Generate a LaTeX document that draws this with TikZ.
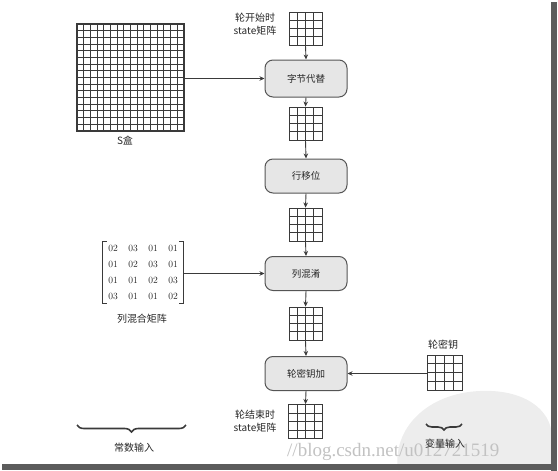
\documentclass[tikz,border=0pt]{standalone}
\usepackage{fontspec}
\newfontfamily\cjk{Noto Sans CJK SC}
\newfontfamily\wmfont{Liberation Serif}
\usetikzlibrary{arrows.meta,decorations.pathreplacing,calc,matrix}
\definecolor{linec}{HTML}{3A3A3A}
\definecolor{boxfill}{HTML}{E6E6E6}
\definecolor{boxline}{HTML}{555555}
\definecolor{txtc}{HTML}{262626}
\definecolor{wmc}{HTML}{C2C2C2}
\definecolor{blobc}{HTML}{EDEDED}
\definecolor{framec}{HTML}{5C5C5C}
\begin{document}
\begin{tikzpicture}[x=1pt,y=-1pt,
  gridbox/.style={draw=linec, line width=0.9pt, inner sep=0pt, minimum size=#1,
    path picture={
      \foreach \i in {1,2,3}{
        \draw[linec,line width=0.9pt]
          ($(path picture bounding box.north west)!\i/4!(path picture bounding box.north east)$) --
          ($(path picture bounding box.south west)!\i/4!(path picture bounding box.south east)$);
        \draw[linec,line width=0.9pt]
          ($(path picture bounding box.north west)!\i/4!(path picture bounding box.south west)$) --
          ($(path picture bounding box.north east)!\i/4!(path picture bounding box.south east)$);
      }}},
  sgrid/.style={draw=linec, line width=1.1pt, inner sep=0pt, minimum size=107pt,
    path picture={
      \foreach \i in {1,...,15}{
        \draw[linec,line width=1pt]
          ($(path picture bounding box.north west)!\i/16!(path picture bounding box.north east)$) --
          ($(path picture bounding box.south west)!\i/16!(path picture bounding box.south east)$);
        \draw[linec,line width=1pt]
          ($(path picture bounding box.north west)!\i/16!(path picture bounding box.south west)$) --
          ($(path picture bounding box.north east)!\i/16!(path picture bounding box.south east)$);
      }}},
  stagebox/.style={draw=boxline, fill=boxfill, line width=1pt, rounded corners=8pt,
    minimum width=82pt, minimum height=34pt, inner sep=0pt, text=txtc,
    font=\cjk\fontsize{9.5}{11}\selectfont},
  lbl/.style={text=txtc, inner sep=0pt, align=center,
    font=\cjk\fontsize{10}{13}\selectfont},
  arr/.style={draw=linec, line width=0.9pt, -{Stealth[length=5pt,width=4.5pt]}},
  bracefig/.style={draw=linec, line width=1.6pt,
    decorate, decoration={brace, mirror, amplitude=7pt}},
  cell/.style={minimum width=20pt, minimum height=16pt, inner sep=0pt, text=txtc,
    font=\fontsize{9.5}{10}\selectfont}
]
\useasboundingbox (0,0) rectangle (558,471);

% watermark blob
\fill[blobc] (398,470) .. controls (392,428) and (428,393) .. (480,391)
  .. controls (522,389) and (552,408) .. (552,438) -- (552,470) -- cycle;

% watermark text (behind everything else)
\node[text=wmc, inner sep=0pt, anchor=base west,
  font=\wmfont\fontsize{19}{20}\selectfont] (wm) at (287,456) {//blog.csdn.net/u012721519};

% frame bars
\fill[framec] (551,2) rectangle (557,471);
\fill[framec] (2,464) rectangle (557,470);

% S box
\node[sgrid] (sbox) at (130.5,77.5) {};
\node[lbl] (sboxlbl) at (125,141) {S盒};

% state column
\node[gridbox=33pt] (g1) at (305.5,28.5) {};
\node[lbl] (startlbl) at (255,24.5) {轮开始时\\state矩阵};
\node[stagebox, minimum height=37pt] (b1) at (306,78.5) {字节代替};
\node[gridbox=33pt] (g2) at (305.5,123.5) {};
\node[stagebox] (b2) at (306,176) {行移位};
\node[gridbox=33pt] (g3) at (305.5,224.5) {};
\node[stagebox] (b3) at (306,273.5) {列混淆};
\node[gridbox=33pt] (g4) at (305.5,323.5) {};
\node[stagebox] (b4) at (306,373.5) {轮密钥加};
\node[gridbox=34pt] (g5) at (305.5,421.5) {};
\node[lbl] (endlbl) at (255,421.5) {轮结束时\\state矩阵};

% round key
\node[gridbox=35pt] (key) at (444.5,372.5) {};
\node[lbl] (keylbl) at (443,345) {轮密钥};

% mix column matrix
\matrix (mx) [matrix of nodes, nodes={cell}, column sep=0pt, row sep=0pt,
  inner sep=0pt] at (143,272.5) {
  02 & 03 & 01 & 01 \\
  01 & 02 & 03 & 01 \\
  01 & 01 & 02 & 03 \\
  03 & 01 & 01 & 02 \\
};
\draw[linec, line width=0.9pt] ($(mx.north west)+(4,1)$) -- ($(mx.north west)+(0,1)$)
  -- ($(mx.south west)+(0,-1)$) -- ($(mx.south west)+(4,-1)$);
\draw[linec, line width=0.9pt] ($(mx.north east)+(-4,1)$) -- ($(mx.north east)+(0,1)$)
  -- ($(mx.south east)+(0,-1)$) -- ($(mx.south east)+(-4,-1)$);
\node[lbl] (mxlbl) at (142,319) {列混合矩阵};

% connectors
\draw[arr] (g1.south) -- (b1.north);
\draw[arr] (b1.south) -- (g2.north);
\draw[arr] (g2.south) -- (b2.north);
\draw[arr] (b2.south) -- (g3.north);
\draw[arr] (g3.south) -- (b3.north);
\draw[arr] (b3.south) -- (g4.north);
\draw[arr] (g4.south) -- (b4.north);
\draw[arr] (b4.south) -- (g5.north);
\draw[arr] (sbox.east |- b1.west) -- (b1.west);
\draw[arr] (mx.east |- b3.west) -- (b3.west);
\draw[arr] (key.west |- b4.east) -- (b4.east);

% braces
\coordinate (c1a) at (77,425);
\coordinate (c1b) at (186,425);
\draw[bracefig] (c1a) -- (c1b);
\node[lbl] (constlbl) at (134,448) {常数输入};
\coordinate (c2a) at (426,424);
\coordinate (c2b) at (462,424);
\draw[bracefig, decoration={brace, mirror, amplitude=6pt}] (c2a) -- (c2b);
\node[lbl] (varlbl) at (445,444) {变量输入};
\end{tikzpicture}
\end{document}
